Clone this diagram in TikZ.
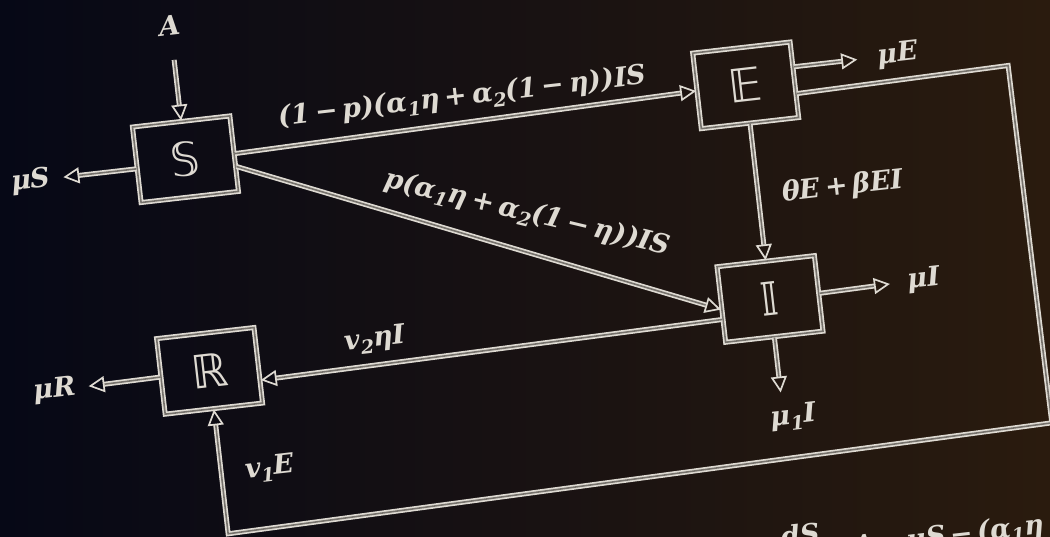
\documentclass[tikz,border=0pt]{standalone}
\usepackage{fontspec}
\usepackage{xcolor}
\usetikzlibrary{arrows.meta, positioning, calc}

\newfontfamily\chalkfont{DejaVu Serif}
\newfontfamily\bbfont{DejaVu Sans}
\newcommand\sub[1]{\raisebox{-0.22em}{\fontsize{19}{20}\selectfont #1}}
\newcommand\op[1]{\kern0.18em#1\kern0.18em}
\newcommand\chfrac[2]{\begin{tabular}[t]{@{}c@{}}#1\\[-7pt]\rule{1.4em}{1.4pt}\\[-3pt]#2\end{tabular}}

\definecolor{chalk}{RGB}{222,218,210}
\definecolor{chalkgap}{RGB}{118,114,108}
\definecolor{boardleft}{RGB}{6,8,22}
\definecolor{boardmid}{RGB}{20,14,18}
\definecolor{boardright}{RGB}{42,27,14}

\begin{document}
\begin{tikzpicture}[
    x=1pt, y=1pt,
    comp/.style={draw=chalk, double=chalkgap, line width=1.7pt, double distance=1.6pt,
        minimum width=98pt, minimum height=76pt, inner sep=0pt, text=chalk,
        font=\bbfont\fontsize{46}{48}\selectfont},
    rate/.style={text=chalk, inner sep=3pt, font=\chalkfont\bfseries\itshape\fontsize{27}{30}\selectfont},
    sink/.style={rate, outer sep=10pt},
    wire/.style={draw=chalk, double=chalkgap, line width=1.7pt, double distance=1.6pt},
    flow/.style={wire, -{Triangle[open, length=16pt, width=16pt]}}
]
% board
\shade[left color=boardleft, middle color=boardmid, right color=boardright]
    (0,0) rectangle (1050,537);
\useasboundingbox (0,0) rectangle (1050,537);
\clip (0,0) rectangle (1050,537);

\begin{scope}[shift={(525,268.5)}, rotate=6.5, transform shape]
% compartments
\node[comp] (S) at (-325,147) {𝕊};
\node[comp] (E) at (240,157) {𝔼};
\node[comp] (I) at (240,-58) {𝕀};
\node[comp] (R) at (-325,-66) {ℝ};

% inflow and outflows
\node[rate] (lA) at (-325,282) {A};
\node[sink] (muS) at (-481,143) {μS};
\node[sink] (muE) at (395,170) {μE};
\node[sink] (muI) at (395,-56) {μI};
\node[sink] (mu1I) at (250,-178) {μ\sub{1}I};
\node[sink] (muR) at (-481,-68) {μR};

\draw[flow, shorten <=22pt] (lA) -- (S);
\draw[flow] ([yshift=-4]S.west) -- (muS);
\draw[flow, shorten >=8pt] ([yshift=13]E.east) -- (muE);
\draw[flow, shorten >=5pt] (I.east) -- (muI);
\draw[flow] (I.south) -- (I.south |- mu1I.north);
\draw[flow] (R) -- (muR);

% transfers
\draw[flow] (S.east) -- (E.west)
    node[rate, midway, above=8pt] {(1\op{−}p)(α\sub{1}η\op{+}α\sub{2}(1\op{−}η))IS};
\draw[flow] ([yshift=-13]S.east) -- ([yshift=-5]I.west)
    node[rate, pos=0.58, sloped, rotate=3, above=20pt] {p(α\sub{1}η\op{+}α\sub{2}(1\op{−}η))IS};
\draw[flow] (E) -- (I);
\node[rate] (lEI) at (325,45) {θE\op{+}βEI};
\draw[flow] ([yshift=-15]I.west) -- ([yshift=-15]R.east);
\node[rate] (lIR) at (-157,-54) {v\sub{2}ηI};

% loop back from E to R
\coordinate (tr) at (503,147);
\coordinate (br) at (506,-213);
\coordinate (bl) at (-325,-230);
\draw[flow] ([yshift=-14]E.east) -- (tr) -- (br) -- (bl) -- (R.south);
\node[rate] (lER) at (-276,-170) {v\sub{1}E};

% first equation, cut by the edge
\node[rate, anchor=base west, inner sep=0pt] (eqS) at (224,-322)
    {\raisebox{17pt}{\chfrac{dS}{dt}}\op{=}A\op{−}μS\op{−}(α\sub{1}η\op{+}α\sub{2}(1\op{−}η))IS};
\end{scope}
\end{tikzpicture}
\end{document}
